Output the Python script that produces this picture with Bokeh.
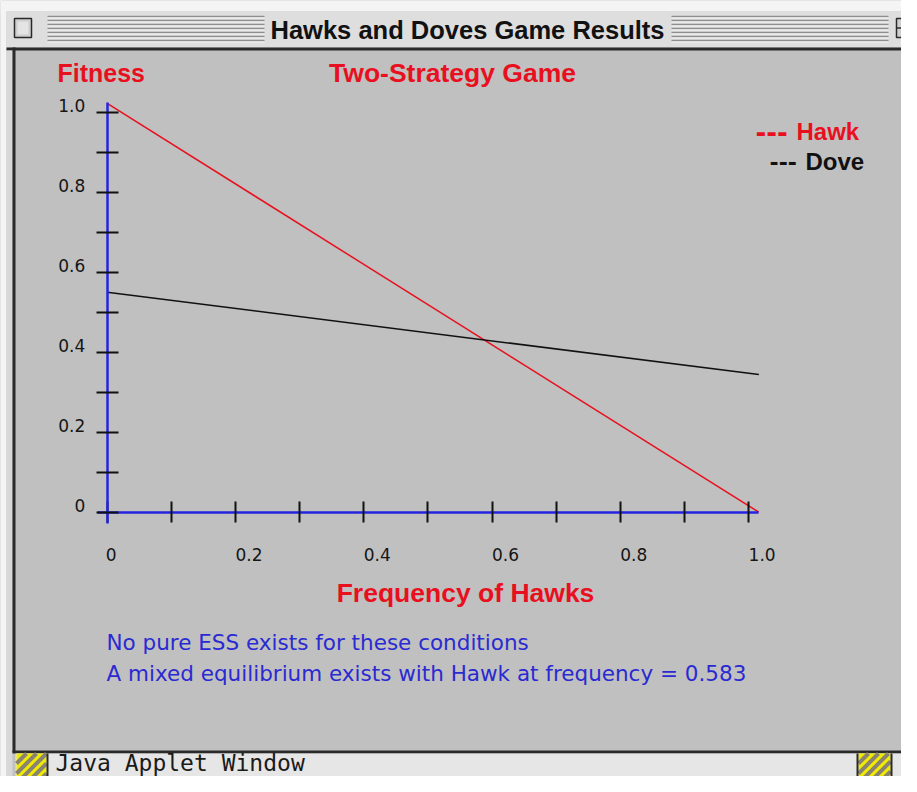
from bokeh.plotting import figure
from bokeh.models import Range1d, LinearAxis, FixedTicker
from bokeh.core.properties import value
from bokeh.embed import file_html
from bokeh.resources import INLINE

# ---------------- data ----------------
frequency = [0.0, 1.016]
hawk_fitness = [1.022, 0.0]
dove_fitness = [0.55, 0.344]

x_ticks = [0.0, 0.1, 0.2, 0.3, 0.4, 0.5, 0.6, 0.7, 0.8, 0.9, 1.0]
x_labeled = [0.0, 0.2, 0.4, 0.6, 0.8, 1.0]
x_tick_labels = ["0", "0.2", "0.4", "0.6", "0.8", "1.0"]
y_ticks = [0.0, 0.1, 0.2, 0.3, 0.4, 0.5, 0.6, 0.7, 0.8, 0.9, 1.0]
y_labeled = [0.0, 0.2, 0.4, 0.6, 0.8, 1.0]
y_tick_labels = ["0", "0.2", "0.4", "0.6", "0.8", "1.0"]

window_title = "Hawks and Doves Game Results"
chart_title = "Two-Strategy Game"
y_title = "Fitness"
x_title = "Frequency of Hawks"
series_names = ["Hawk", "Dove"]
messages = ["No pure ESS exists for these conditions",
            "A mixed equilibrium exists with Hawk at frequency = 0.583"]
status_text = "Java Applet Window"

# ---------------- geometry / style ----------------
W, H = 901, 776
X0, XS = 106.7, 641.4        # screen x of p=0 and px per unit
Y0, YS = 511.7, 400.0        # screen y of fitness=0 and px per unit

CONTENT = "#c0c0c0"
RED = "#e8101e"
BLUE = "#2424e0"
TXT_BLUE = "#2a2ad2"
DARK = "#2a2a2a"

p = figure(width=W, height=H,
           x_range=Range1d((0 - X0) / XS, (W - X0) / XS),
           y_range=Range1d((Y0 - H) / YS, (Y0 - 0) / YS),
           x_axis_type=None, y_axis_type=None, title=None,
           toolbar_location=None, output_backend="svg", min_border=0)
p.outline_line_color = None
p.background_fill_color = CONTENT
p.border_fill_color = CONTENT
p.extra_x_ranges = {"px": Range1d(0, W)}
p.extra_y_ranges = {"px": Range1d(H, 0)}
PX = dict(x_range_name="px", y_range_name="px")


def box(l, r, t, b, fill, line=None, lw=1):
    p.quad(left=[l], right=[r], top=[t], bottom=[b], fill_color=fill,
           line_color=line, line_width=lw, **PX)


def seg(x0, y0, x1, y1, color, lw=1):
    p.segment(x0=[x0], y0=[y0], x1=[x1], y1=[y1], line_color=color,
              line_width=lw, **PX)


def txt(x, y, s, size, color, style="normal", align="left",
        font="Liberation Sans"):
    p.text(x=[x], y=[y], text=[s], text_font=value(font),
           text_font_size=f"{size}px", text_font_style=style,
           text_color=color, text_align=align, text_baseline="middle", **PX)


def striped(l, r, t, b):
    box(l, r, t, b, "#f0ec00")
    period = 10.0
    c = l + t - period
    while c < r + b + period:
        xa = max(l, c - b)
        xb = min(r, c - t)
        if xb > xa:
            seg(xa, c - xa, xb, c - xb, "#8a8272", 4)
        c += period


# ---------------- window chrome ----------------
box(0, 920, 0, 11, "#f4f4f4")
box(0, 6, 0, 800, "#f4f4f4")
box(6, 920, 11, 47, "#dedede")
for yy in range(16, 41, 4):
    seg(47, yy, 264, yy, "#8e8e8e", 1.3)
    seg(47, yy + 1.5, 264, yy + 1.5, "#f6f6f6", 1)
    seg(671, yy, 888, yy, "#8e8e8e", 1.3)
    seg(671, yy + 1.5, 888, yy + 1.5, "#f6f6f6", 1)
box(14, 31, 18, 37, "#cfcfcf", DARK, 1.5)
box(17, 28, 21, 34, "#e4e4e4")
box(896, 914, 18, 37, "#cfcfcf", DARK, 1.5)
seg(896, 27.5, 914, 27.5, DARK, 1.5)
txt(467, 29, window_title, 25.5, "#111111", "bold", "center")
box(6, 920, 47, 50, DARK)
box(6, 12, 50, 800, "#d8d8d8")
box(12, 15, 47, 752, DARK)

# status bar
box(12, 920, 750, 753, DARK)
box(15, 920, 753, 800, "#e6e6e6")
striped(16, 46, 753, 777)
box(46, 48, 753, 800, DARK)
striped(858, 890, 753, 777)
box(856, 858, 753, 800, DARK)
box(890, 892, 753, 800, DARK)
txt(55, 762, status_text, 23, "#1a1a1a", "normal", "left", "DejaVu Sans Mono")

# ---------------- chart ----------------
p.line(frequency, hawk_fitness, line_color=RED, line_width=1.5)
p.line(frequency, dove_fitness, line_color="#111111", line_width=1.5)

# axis lines + tick marks (labels drawn by the label axes below)
xaxis = LinearAxis(fixed_location=0, bounds=(-10 / XS, frequency[-1]),
                   ticker=FixedTicker(ticks=x_ticks))
yaxis = LinearAxis(fixed_location=0, bounds=(-11 / YS, hawk_fitness[0] + 0.003),
                   ticker=FixedTicker(ticks=y_ticks))
for ax in (xaxis, yaxis):
    ax.axis_line_color = BLUE
    ax.axis_line_width = 2.5
    ax.major_tick_line_color = "#111111"
    ax.major_tick_line_width = 2
    ax.minor_tick_line_color = None
    ax.major_label_text_color = None
xaxis.major_tick_in = 11
xaxis.major_tick_out = 10
yaxis.major_tick_in = 11
yaxis.major_tick_out = 11

# tick labels: the applet draws them right of / above each tick,
# so a label-only axis places them at slightly shifted positions
x_label_pos = [t + (4.0 if lab == "0" else 13.5) / XS
               for t, lab in zip(x_labeled, x_tick_labels)]
y_label_pos = [t + 6.7 / YS for t in y_labeled]
xlab = LinearAxis(fixed_location=0, ticker=FixedTicker(ticks=x_label_pos),
                  major_label_overrides=dict(zip(x_label_pos, x_tick_labels)))
ylab = LinearAxis(fixed_location=0, ticker=FixedTicker(ticks=y_label_pos),
                  major_label_overrides=dict(zip(y_label_pos, y_tick_labels)))
for ax in (xlab, ylab):
    ax.axis_line_color = None
    ax.major_tick_line_color = None
    ax.minor_tick_line_color = None
    ax.major_tick_in = 0
    ax.major_tick_out = 0
    ax.major_label_text_font = "DejaVu Sans"
    ax.major_label_text_font_size = "17px"
    ax.major_label_text_color = "#151515"
xlab.major_label_standoff = 36
ylab.major_label_standoff = 22

p.add_layout(xaxis, "below")
p.add_layout(yaxis, "left")
p.add_layout(xlab, "below")
p.add_layout(ylab, "left")

# titles
txt(57, 72, y_title, 25, RED, "bold")
txt(452, 72, chart_title, 26.5, RED, "bold", "center")
txt(465, 592, x_title, 26.5, RED, "bold", "center")

# legend (text style, as in the applet)
txt(755, 131, "---", 26, RED, "bold", "left", "DejaVu Sans")
txt(796, 131, series_names[0], 24, RED, "bold")
txt(769, 161, "---", 22, "#111111", "bold", "left", "DejaVu Sans")
txt(805, 161, series_names[1], 24, "#111111", "bold")

# messages
txt(106, 642, messages[0], 21.5, TXT_BLUE, "normal", "left", "DejaVu Sans")
txt(106, 673, messages[1], 21.5, TXT_BLUE, "normal", "left", "DejaVu Sans")

open("out.html", "w").write(file_html(p, INLINE))
